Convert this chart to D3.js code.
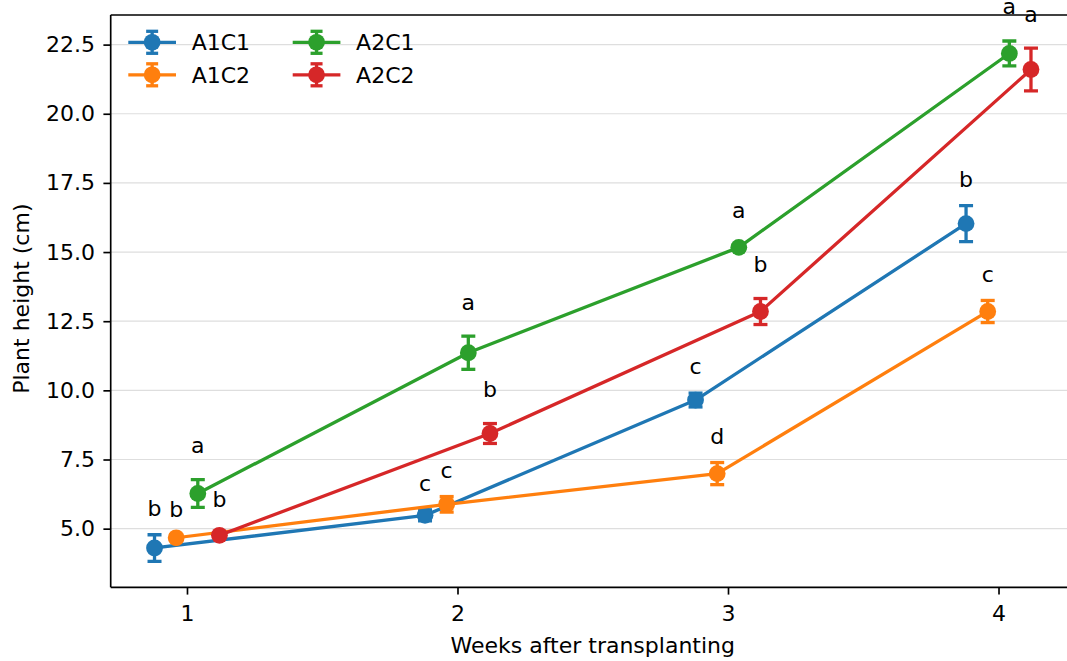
<!DOCTYPE html>
<html><head><meta charset="utf-8">
<script src="https://cdn.jsdelivr.net/npm/d3@7"></script>
<style>
html,body{margin:0;padding:0;background:#fff;}
svg{display:block;font-family:"DejaVu Sans",sans-serif;}
</style></head>
<body><svg id="chart" width="1067" height="661"></svg>
<script>
// ---- data ----
const weeks = [1, 2, 3, 4];
const seriesNames = ["A1C1", "A1C2", "A2C1", "A2C2"];
const A1C1_mean = [4.30, 5.48, 9.65, 16.03];
const A1C1_sd   = [0.48, 0.20, 0.25, 0.65];
const A1C2_mean = [4.67, 5.88, 6.99, 12.85];
const A1C2_sd   = [0.10, 0.28, 0.40, 0.40];
const A2C1_mean = [6.27, 11.36, 15.17, 22.18];
const A2C1_sd   = [0.50, 0.60, 0.10, 0.45];
const A2C2_mean = [4.76, 8.44, 12.85, 21.60];
const A2C2_sd   = [0.08, 0.36, 0.47, 0.77];
const A1C1_letters = ["b", "c", "c", "b"];
const A1C2_letters = ["b", "c", "d", "c"];
const A2C1_letters = ["a", "a", "a", "a"];
const A2C2_letters = ["b", "b", "b", "a"];
const yTicks = [5.0, 7.5, 10.0, 12.5, 15.0, 17.5, 20.0, 22.5];
const xTicks = [1, 2, 3, 4];
const xLabel = "Weeks after transplanting";
const yLabel = "Plant height (cm)";

// ---- style ----
const colors = ["#1f77b4", "#ff7f0e", "#2ca02c", "#d62728"];
const dodge = [-0.12, -0.04, 0.04, 0.12];
const letterPad = [0.68, 0.66, 0.96, 0.95];
const FS = 22;
const LW = 3.3;
const R = 8.4;
const CAP = 7;

const series = [
  {name: seriesNames[0], mean: A1C1_mean, sd: A1C1_sd, letters: A1C1_letters},
  {name: seriesNames[1], mean: A1C2_mean, sd: A1C2_sd, letters: A1C2_letters},
  {name: seriesNames[2], mean: A2C1_mean, sd: A2C1_sd, letters: A2C1_letters},
  {name: seriesNames[3], mean: A2C2_mean, sd: A2C2_sd, letters: A2C2_letters},
].map((s, i) => ({...s, color: colors[i], pad: letterPad[i],
  pts: weeks.map((w, j) => ({x: w + dodge[i], m: s.mean[j], s: s.sd[j], l: s.letters[j]}))}));

const svg = d3.select("#chart");
svg.append("rect").attr("width", 1067).attr("height", 661).attr("fill", "#fff");

const L = 110.7, T = 15, B = 587.3, Rt = 1074.8;

// autoscale with 5% margins (like matplotlib)
const allX = series.flatMap(s => s.pts.map(p => p.x));
const xmin = d3.min(allX), xmax = d3.max(allX), xm = (xmax - xmin) * 0.05;
const allLo = series.flatMap(s => s.pts.map(p => p.m - p.s));
const allHi = series.flatMap(s => s.pts.map(p => p.m + p.s));
const ymin = d3.min(allLo), ymax = d3.max(allHi), ym = (ymax - ymin) * 0.05;

const x = d3.scaleLinear().domain([xmin - xm, xmax + xm]).range([L, Rt]);
const y = d3.scaleLinear().domain([ymin - ym, ymax + ym]).range([B, T]);

svg.append("defs").append("clipPath").attr("id", "clip")
  .append("rect").attr("x", L).attr("y", T).attr("width", Rt - L).attr("height", B - T);

// grid
svg.append("g").selectAll("line").data(yTicks).join("line")
  .attr("x1", L).attr("x2", Rt).attr("y1", d => y(d)).attr("y2", d => y(d))
  .attr("stroke", "#dedede").attr("stroke-width", 1.2);

const plot = svg.append("g").attr("clip-path", "url(#clip)");

// error bars (below all data lines, as matplotlib zorder)
series.forEach(s => {
  const g = plot.append("g").attr("stroke", s.color).attr("stroke-width", LW);
  s.pts.forEach(p => {
    g.append("line").attr("x1", x(p.x)).attr("x2", x(p.x)).attr("y1", y(p.m - p.s)).attr("y2", y(p.m + p.s));
    [p.m - p.s, p.m + p.s].forEach(v => {
      g.append("line").attr("x1", x(p.x) - CAP).attr("x2", x(p.x) + CAP).attr("y1", y(v)).attr("y2", y(v));
    });
  });
});

// lines + markers
const line = d3.line().x(p => x(p.x)).y(p => y(p.m));
series.forEach(s => {
  plot.append("path").datum(s.pts).attr("d", line).attr("fill", "none")
    .attr("stroke", s.color).attr("stroke-width", LW).attr("stroke-linejoin", "round").attr("stroke-linecap", "square");
  plot.append("g").selectAll("circle").data(s.pts).join("circle")
    .attr("cx", p => x(p.x)).attr("cy", p => y(p.m)).attr("r", R).attr("fill", s.color);
});

// spines
const sp = svg.append("g").attr("stroke", "#000").attr("stroke-width", 1.67).attr("fill", "none");
sp.append("line").attr("x1", L).attr("x2", L).attr("y1", T).attr("y2", B);
sp.append("line").attr("x1", L).attr("x2", Rt).attr("y1", B).attr("y2", B);
sp.append("line").attr("x1", L).attr("x2", Rt).attr("y1", T).attr("y2", T);
sp.append("line").attr("x1", Rt).attr("x2", Rt).attr("y1", T).attr("y2", B);

// letters
series.forEach(s => {
  svg.append("g").selectAll("text").data(s.pts).join("text")
    .attr("x", p => x(p.x)).attr("y", p => y(p.m + p.s + s.pad))
    .attr("text-anchor", "middle").attr("font-size", FS).attr("fill", "#000")
    .text(p => p.l);
});

// axes
const xAxis = d3.axisBottom(x).tickValues(xTicks).tickFormat(d3.format("d")).tickSizeInner(7.3).tickSizeOuter(0).tickPadding(11.2);
const gx = svg.append("g").attr("transform", `translate(0,${B})`).call(xAxis);
gx.select(".domain").remove();
gx.selectAll(".tick line").attr("stroke", "#000").attr("stroke-width", 1.67);
gx.selectAll(".tick text").attr("font-size", FS).attr("font-family", "DejaVu Sans").attr("fill", "#000");

const yAxis = d3.axisLeft(y).tickValues(yTicks).tickFormat(d3.format(".1f")).tickSizeInner(7.3).tickSizeOuter(0).tickPadding(8.4);
const gy = svg.append("g").attr("transform", `translate(${L},0)`).call(yAxis);
gy.select(".domain").remove();
gy.selectAll(".tick line").attr("stroke", "#000").attr("stroke-width", 1.67);
gy.selectAll(".tick text").attr("font-size", FS).attr("font-family", "DejaVu Sans").attr("fill", "#000");

svg.append("text").attr("x", (L + Rt) / 2).attr("y", 652.5).attr("text-anchor", "middle")
  .attr("font-size", FS).text(xLabel);
svg.append("text").attr("transform", `translate(29.3,${(T + B) / 2 - 2.5}) rotate(-90)`).attr("text-anchor", "middle")
  .attr("font-size", FS).text(yLabel);

// legend (2 columns, no frame)
const legX = [128.3, 292.7], legY = [42.3, 74.8], handleW = 47.7, textGap = 15.7;
series.forEach((s, i) => {
  const col = Math.floor(i / 2), row = i % 2;
  const g = svg.append("g").attr("transform", `translate(${legX[col]},${legY[row]})`);
  g.append("line").attr("x1", 0).attr("x2", handleW).attr("y1", 0).attr("y2", 0).attr("stroke", s.color).attr("stroke-width", LW);
  g.append("line").attr("x1", handleW / 2).attr("x2", handleW / 2).attr("y1", -11).attr("y2", 11).attr("stroke", s.color).attr("stroke-width", LW);
  [-11, 11].forEach(v => g.append("line").attr("x1", handleW / 2 - 6).attr("x2", handleW / 2 + 6).attr("y1", v).attr("y2", v).attr("stroke", s.color).attr("stroke-width", LW));
  g.append("circle").attr("cx", handleW / 2).attr("cy", 0).attr("r", R).attr("fill", s.color);
  g.append("text").attr("x", handleW + textGap).attr("y", 0).attr("dy", "0.36em").attr("font-size", FS).text(s.name);
});
</script></body></html>
